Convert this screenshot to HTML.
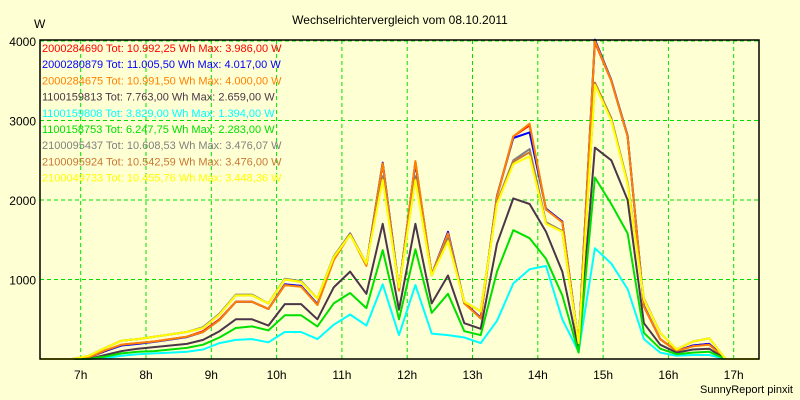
<!DOCTYPE html>
<html><head><meta charset="utf-8"><style>
html,body{margin:0;padding:0;background:#ffffd4;}
svg{display:block;font-family:"Liberation Sans",sans-serif;}
</style></head><body>
<svg id="chart" width="800" height="400" viewBox="0 0 800 400">
<rect x="0" y="0" width="800" height="400" fill="#ffffd4"/>
<text x="400" y="24" text-anchor="middle" font-size="12" fill="#000">Wechselrichtervergleich vom 08.10.2011</text>
<text x="34" y="28" font-size="12" fill="#000">W</text>
<text x="700" y="393" font-size="11" fill="#000">SunnyReport pinxit</text>
<g id="grid"></g>
<g id="series"></g>
<g id="legend"></g>
<rect x="40" y="40" width="719" height="319" fill="none" stroke="#000" stroke-width="1.5"/>
<g id="axes"></g>
</svg>
<script>
const times = [6.375,6.625,6.875,7.125,7.375,7.625,7.875,8.125,8.375,8.625,8.875,9.125,9.375,9.625,9.875,10.125,10.375,10.625,10.875,11.125,11.375,11.625,11.875,12.125,12.375,12.625,12.875,13.125,13.375,13.625,13.875,14.125,14.375,14.625,14.875,15.125,15.375,15.625,15.875,16.125,16.375,16.625,16.875,17.125,17.375];
const seriesNames = ["2000284690 Tot: 10.992,25 Wh Max: 3.986,00 W","2000280879 Tot: 11.005,50 Wh Max: 4.017,00 W","2000284675 Tot: 10.991,50 Wh Max: 4.000,00 W","1100159813 Tot: 7.763,00 Wh Max: 2.659,00 W","1100159808 Tot: 3.829,00 Wh Max: 1.394,00 W","1100158753 Tot: 6.247,75 Wh Max: 2.283,00 W","2100095437 Tot: 10.608,53 Wh Max: 3.476,07 W","2100095924 Tot: 10.542,59 Wh Max: 3.476,00 W","2100049733 Tot: 10.455,76 Wh Max: 3.448,36 W"];
const seriesColors = ["#ff0000","#0000ff","#ff8000","#4b3548","#00ffff","#00e000","#808080","#c87830","#ffff00"];
const sRed = [0,0,0,20,100,180,200,220,250,280,350,500,720,720,630,930,920,680,1250,1570,1180,2460,870,2480,1060,1590,710,520,2050,2800,2940,1880,1730,180,3986,3500,2800,660,250,100,170,190,0,0,0];
const sBlue = [0,0,0,20,100,170,190,215,245,275,340,490,720,720,630,940,920,690,1250,1580,1180,2470,880,2470,1060,1600,700,520,2050,2780,2850,1890,1730,180,4017,3510,2810,670,250,100,170,190,0,0,0];
const sOrange = [0,0,0,20,110,180,200,220,250,280,340,490,720,720,630,930,910,680,1240,1570,1170,2460,860,2490,1060,1580,700,510,2040,2800,2960,1880,1720,180,4000,3500,2800,660,250,100,160,180,0,0,0];
const sBlack = [0,0,0,0,50,100,130,150,170,190,240,350,500,500,420,690,690,500,900,1100,820,1700,620,1700,700,1050,450,380,1450,2020,1950,1600,1100,120,2659,2500,2000,450,180,80,120,130,0,0,0];
const sCyan = [0,0,0,0,10,40,60,70,80,90,120,200,240,250,210,340,340,250,430,560,420,940,300,930,320,300,270,200,480,950,1130,1170,500,90,1394,1200,880,250,80,40,50,50,0,0,0];
const sGreen = [0,0,0,0,30,70,90,100,120,140,180,270,390,410,360,550,550,410,700,830,640,1370,500,1380,580,820,350,300,1100,1620,1520,1260,800,80,2283,1950,1580,330,130,60,80,90,0,0,0];
const sGray = [0,0,0,40,140,230,250,280,310,340,400,570,810,810,700,1010,980,760,1290,1580,1200,2300,900,2300,1050,1520,720,600,1970,2500,2640,1720,1610,200,3476,3030,2220,760,330,120,220,260,0,0,0];
const sBrown = [0,0,0,40,140,230,250,280,310,340,390,560,800,800,700,1000,970,760,1280,1570,1200,2280,900,2270,1050,1500,720,600,1960,2480,2600,1710,1600,200,3476,3020,2210,750,330,120,220,260,0,0,0];
const sYellow = [0,0,0,40,140,230,250,280,310,340,390,560,800,800,700,1000,970,760,1280,1560,1200,2250,900,2250,1050,1480,720,600,1950,2450,2550,1700,1600,200,3448,3000,2200,750,330,120,220,260,0,0,0];
const allSeries = [sRed,sBlue,sOrange,sBlack,sCyan,sGreen,sGray,sBrown,sYellow];
const hourTicks = [7,8,9,10,11,12,13,14,15,16,17];
const yTicks = [1000,2000,3000,4000];

const NS="http://www.w3.org/2000/svg";
function xScale(h){return 80.7+(h-7)*65.3;}
function yScale(v){return 359-v*0.0795;}
function clampX(x){return Math.max(40,Math.min(759,x));}

const grid=document.getElementById('grid');
const axes=document.getElementById('axes');
hourTicks.forEach(h=>{
  const l=document.createElementNS(NS,'line');
  
  
  l.setAttribute('x1',xScale(h));l.setAttribute('x2',xScale(h));
  l.setAttribute('y1',40);l.setAttribute('y2',359);
  l.setAttribute('stroke','#00e000');l.setAttribute('stroke-dasharray','4,3');
  grid.appendChild(l);
  const t=document.createElementNS(NS,'text');
  
  
  t.setAttribute('x',xScale(h));t.setAttribute('y',379);
  t.setAttribute('text-anchor','middle');t.setAttribute('font-size','12');
  t.textContent=h+'h';
  axes.appendChild(t);
});
yTicks.forEach(v=>{
  const l=document.createElementNS(NS,'line');
  
  
  l.setAttribute('x1',40);l.setAttribute('x2',759);
  l.setAttribute('y1',yScale(v));l.setAttribute('y2',yScale(v));
  l.setAttribute('stroke','#00e000');l.setAttribute('stroke-dasharray','4,3');
  grid.appendChild(l);
  const t=document.createElementNS(NS,'text');
  
  
  t.setAttribute('x',36);t.setAttribute('y',yScale(v)+5);
  t.setAttribute('text-anchor','end');t.setAttribute('font-size','12');
  t.textContent=String(v);
  axes.appendChild(t);
});

const sg=document.getElementById('series');
allSeries.forEach((vals,si)=>{
  let pts=[[40,yScale(0)]];
  vals.forEach((v,i)=>{pts.push([clampX(xScale(times[i])),yScale(v)]);});
  pts.push([759,yScale(0)]);
  const p=document.createElementNS(NS,'polyline');
  
  
  p.setAttribute('points',pts.map(q=>q[0].toFixed(1)+','+q[1].toFixed(1)).join(' '));
  p.setAttribute('fill','none');p.setAttribute('stroke',seriesColors[si]);
  p.setAttribute('stroke-width','2');p.setAttribute('stroke-linejoin','round');
  sg.appendChild(p);
});

const lg=document.getElementById('legend');
seriesNames.forEach((n,i)=>{
  const t=document.createElementNS(NS,'text');
  
  
  t.setAttribute('x',42);t.setAttribute('y',52+i*16.2);
  t.setAttribute('font-size','11');t.setAttribute('fill',seriesColors[i]);
  t.textContent=n;
  lg.appendChild(t);
});
</script>
</body></html>
